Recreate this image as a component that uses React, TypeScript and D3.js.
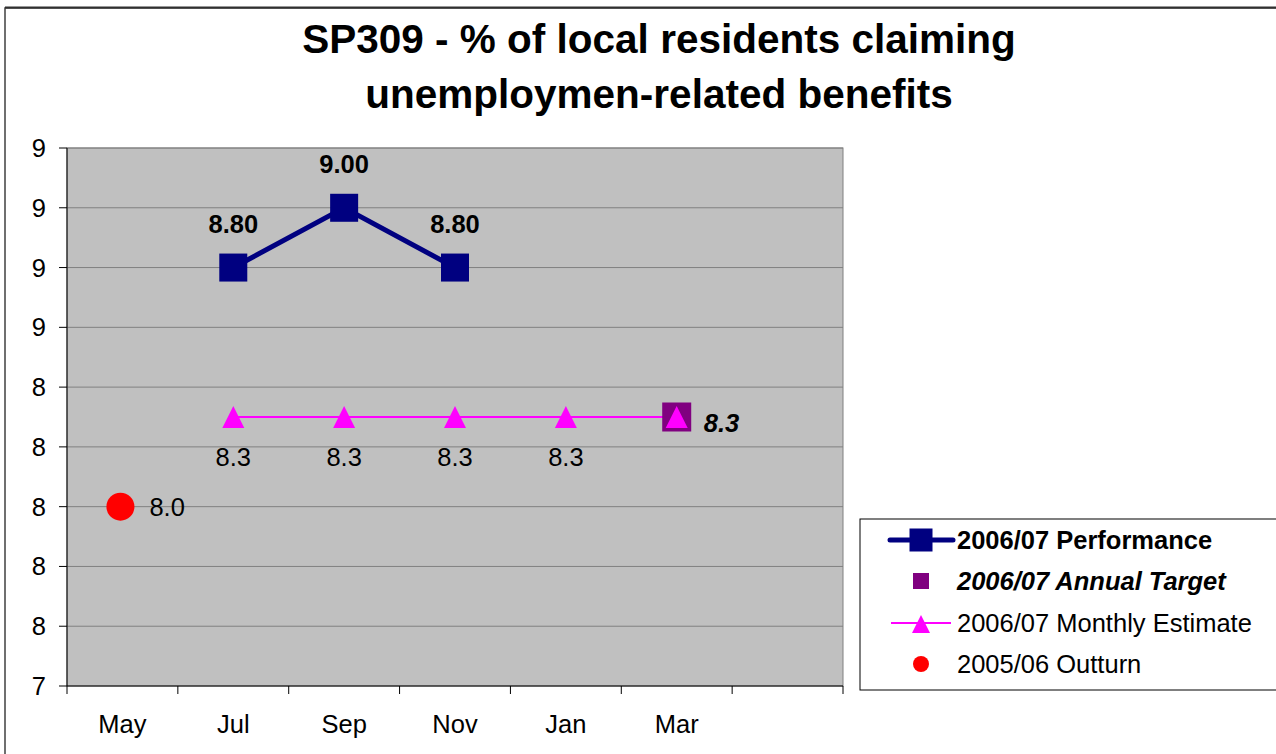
import React from "react";
import * as d3 from "d3";

const months = ["May", "Jul", "Sep", "Nov", "Jan", "Mar", ""];
const performance: (number | null)[] = [null, 8.8, 9.0, 8.8, null, null, null];
const annualTarget: (number | null)[] = [null, null, null, null, null, 8.3, null];
const monthlyEstimate: (number | null)[] = [null, 8.3, 8.3, 8.3, 8.3, 8.3, null];
const outturn: (number | null)[] = [8.0, null, null, null, null, null, null];
const yTicks = [7.4, 7.6, 7.8, 8.0, 8.2, 8.4, 8.6, 8.8, 9.0, 9.2];
const titleLines = ["SP309 - % of local residents claiming", "unemploymen-related benefits"];
const legendItems = [
  "2006/07 Performance",
  "2006/07 Annual Target",
  "2006/07 Monthly Estimate",
  "2005/06 Outturn",
];

const FONT = "'Liberation Sans', Arial, sans-serif";
const NAVY = "#000080";
const MAGENTA = "#FF00FF";
const PURPLE = "#800080";
const RED = "#FF0000";

function triPath(cx: number, cy: number, h: number) {
  const p = d3.path();
  p.moveTo(cx, cy - h / 2);
  p.lineTo(cx + h / 2, cy + h / 2);
  p.lineTo(cx - h / 2, cy + h / 2);
  p.closePath();
  return p.toString();
}

export default function App() {
  const W = 1276;
  const H = 754;
  const left = 67, right = 843, top = 148, bottom = 686;

  const x = d3.scaleBand<string>().domain(months.map((m, i) => m + "|" + i)).range([left, right]).padding(0);
  const key = (i: number) => months[i] + "|" + i;
  const cx = (i: number) => (x(key(i)) as number) + x.bandwidth() / 2;
  const y = d3.scaleLinear().domain([7.4, 9.2]).range([bottom, top]);
  const fmtTick = d3.format(".0f");

  const pts = (arr: (number | null)[]) =>
    arr.map((v, i) => ({ v, i })).filter((d) => d.v !== null) as { v: number; i: number }[];
  const perfPts = pts(performance);
  const estPts = pts(monthlyEstimate);
  const tgtPts = pts(annualTarget);
  const outPts = pts(outturn);

  const line = d3.line<{ v: number; i: number }>().x((d) => cx(d.i)).y((d) => y(d.v));

  const boundaries = months.map((_, i) => x(key(i)) as number).concat([right]);

  const legX = 860, legY = 519, legH = 171;
  const rowY = [540, 581, 623, 664];
  const mX = 921;
  const tX = 957;
  const FS = 25.5;

  return (
    <svg width={W} height={H} style={{ position: "absolute", left: 0, top: 0, background: "#fff" }} fontFamily={FONT}>
      <rect x={0} y={0} width={W} height={H} fill="#fff" />
      {/* outer frame */}
      <rect x={5} y={8} width={W + 10} height={H + 10} fill="none" stroke="#404040" strokeWidth={1.5} />
      <line x1={5} y1={7.5} x2={W} y2={7.5} stroke="#303030" strokeWidth={2} />

      {/* title */}
      {titleLines.map((t, i) => (
        <text key={i} x={659} y={53 + i * 55} textAnchor="middle" fontSize={40.5} fontWeight="bold" fill="#000">
          {t}
        </text>
      ))}

      {/* plot area */}
      <rect x={left} y={top} width={right - left} height={bottom - top} fill="#C0C0C0" stroke="#808080" strokeWidth={1} />
      {yTicks.slice(1).map((t, i) => (
        <line key={i} x1={left} x2={right} y1={y(t)} y2={y(t)} stroke="#808080" strokeWidth={1} />
      ))}
      {/* axes */}
      <line x1={left} x2={left} y1={top} y2={bottom} stroke="#000" strokeWidth={1} />
      <line x1={left} x2={right} y1={bottom} y2={bottom} stroke="#000" strokeWidth={1} />
      {yTicks.map((t, i) => (
        <g key={i}>
          <line x1={left - 8} x2={left} y1={y(t)} y2={y(t)} stroke="#000" />
          <text x={46} y={y(t) + 9} textAnchor="end" fontSize={FS} fill="#000">
            {fmtTick(t)}
          </text>
        </g>
      ))}
      {boundaries.map((b, i) => (
        <line key={i} x1={b} x2={b} y1={bottom} y2={bottom + 8} stroke="#000" />
      ))}
      {months.map((m, i) => (
        <text key={i} x={cx(i)} y={733} textAnchor="middle" fontSize={FS} fill="#000">
          {m}
        </text>
      ))}

      {/* monthly estimate */}
      <path d={line(estPts) || ""} fill="none" stroke={MAGENTA} strokeWidth={2} />
      {/* annual target */}
      {tgtPts.map((d, k) => (
        <g key={k}>
          <rect x={cx(d.i) - 14.5} y={y(d.v) - 14.5} width={29} height={29} fill={PURPLE} />
          <text x={cx(d.i) + 27} y={y(d.v) + 14.5} fontSize={FS} fontWeight="bold" fontStyle="italic" fill="#000">
            {d.v.toFixed(1)}
          </text>
        </g>
      ))}
      {estPts.map((d, k) => (
        <g key={k}>
          <path d={triPath(cx(d.i), y(d.v), 22)} fill={MAGENTA} />
          {k < estPts.length - 1 && (
            <text x={cx(d.i)} y={y(d.v) + 49} textAnchor="middle" fontSize={FS} fill="#000">
              {d.v.toFixed(1)}
            </text>
          )}
        </g>
      ))}

      {/* performance */}
      <path d={line(perfPts) || ""} fill="none" stroke={NAVY} strokeWidth={5} />
      {perfPts.map((d, k) => (
        <g key={k}>
          <rect x={cx(d.i) - 14} y={y(d.v) - 14} width={28} height={28} fill={NAVY} />
          <text x={cx(d.i)} y={y(d.v) - 35} textAnchor="middle" fontSize={FS} fontWeight="bold" fill="#000">
            {d.v.toFixed(2)}
          </text>
        </g>
      ))}

      {/* outturn */}
      {outPts.map((d, k) => (
        <g key={k}>
          <circle cx={cx(d.i) - 2} cy={y(d.v)} r={14} fill={RED} />
          <text x={cx(d.i) + 27} y={y(d.v) + 9} fontSize={FS} fill="#000">
            {d.v.toFixed(1)}
          </text>
        </g>
      ))}

      {/* legend */}
      <rect x={legX} y={legY} width={W} height={legH} fill="#fff" stroke="#000" strokeWidth={1} />
      <line x1={890} x2={953} y1={rowY[0]} y2={rowY[0]} stroke={NAVY} strokeWidth={5} strokeLinecap="round" />
      <rect x={mX - 11.5} y={rowY[0] - 11.5} width={23} height={23} fill={NAVY} />
      <rect x={mX - 8} y={rowY[1] - 8} width={16} height={16} fill={PURPLE} />
      <line x1={891} x2={951} y1={rowY[2]} y2={rowY[2]} stroke={MAGENTA} strokeWidth={2} />
      <path d={triPath(mX, rowY[2] + 1, 18)} fill={MAGENTA} />
      <circle cx={mX} cy={rowY[3]} r={8} fill={RED} />
      {legendItems.map((t, i) => (
        <text
          key={i}
          x={tX}
          y={rowY[i] + 9}
          fontSize={FS}
          fontWeight={i < 2 ? "bold" : "normal"}
          fontStyle={i === 1 ? "italic" : "normal"}
          fill="#000"
        >
          {t}
        </text>
      ))}
    </svg>
  );
}
